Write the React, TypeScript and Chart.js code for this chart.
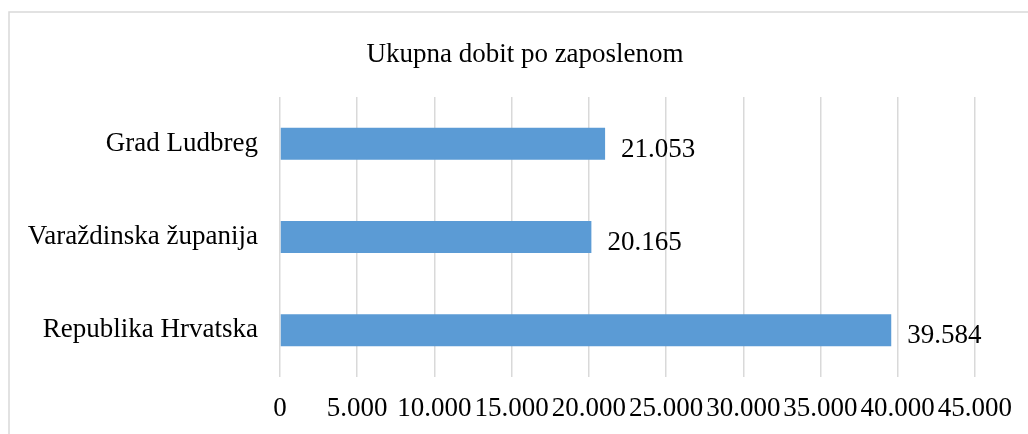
import React, { useEffect, useRef } from "react";
import { Chart, registerables } from "chart.js";

Chart.register(...registerables);

const chartTitle = "Ukupna dobit po zaposlenom";
const categories = ["Grad Ludbreg", "Varaždinska županija", "Republika Hrvatska"];
const values = [21053, 20165, 39584];
const axisMin = 0;
const axisMax = 45000;
const axisStep = 5000;

const FONT = "'Liberation Serif', 'Times New Roman', serif";
const FS = 27;

function fmt(v: number): string {
  const s = Math.round(v).toString();
  return s.replace(/\B(?=(\d{3})+(?!\d))/g, ".");
}

const decorPlugin = {
  id: "decor",
  beforeDraw(chart: any) {
    const ctx = chart.ctx;
    ctx.save();
    ctx.strokeStyle = "#d9d9d9";
    ctx.lineWidth = 1.5;
    ctx.strokeRect(9, 12, 1040, 450);
    ctx.fillStyle = "#000";
    ctx.font = `${FS}px ${FONT}`;
    ctx.textAlign = "center";
    ctx.textBaseline = "alphabetic";
    ctx.fillText(chartTitle, 525, 62);
    ctx.restore();
  },
  afterDatasetsDraw(chart: any) {
    const ctx = chart.ctx;
    const meta = chart.getDatasetMeta(0);
    const data = chart.data.datasets[0].data as number[];
    ctx.save();
    ctx.fillStyle = "#000";
    ctx.font = `${FS}px ${FONT}`;
    ctx.textAlign = "left";
    ctx.textBaseline = "alphabetic";
    meta.data.forEach((el: any, i: number) => {
      ctx.fillText(fmt(data[i]), el.x + 16, el.y + 13);
    });
    ctx.restore();
  },
};

export default function App() {
  const ref = useRef<HTMLCanvasElement>(null);
  useEffect(() => {
    if (!ref.current) return;
    const chart = new Chart(ref.current, {
      type: "bar",
      data: {
        labels: categories,
        datasets: [
          {
            data: values,
            backgroundColor: "#5b9bd5",
            borderWidth: 0,
            barPercentage: 0.343,
            categoryPercentage: 1,
          },
        ],
      },
      options: {
        indexAxis: "y",
        animation: false,
        responsive: false,
        layout: { padding: { top: 97, right: 53, bottom: 0, left: 0 } },
        plugins: {
          legend: { display: false },
          title: { display: false },
          tooltip: { enabled: false },
        },
        scales: {
          x: {
            type: "linear",
            min: axisMin,
            max: axisMax,
            grid: { color: "#d9d9d9", lineWidth: 1.5, drawTicks: false },
            border: { display: false },
            ticks: {
              stepSize: axisStep,
              autoSkip: false,
              maxRotation: 0,
              minRotation: 0,
              padding: 16,
              color: "#000",
              font: { family: FONT, size: FS },
              callback: (v: any) => fmt(Number(v)),
            },
            afterFit: (scale: any) => {
              scale.height = 57;
            },
          },
          y: {
            grid: { display: false, drawTicks: false },
            border: { display: false },
            ticks: {
              padding: 22,
              color: "#000",
              font: { family: FONT, size: FS },
            },
            afterFit: (scale: any) => {
              scale.width = 280;
            },
          },
        },
      },
      plugins: [decorPlugin],
    });
    return () => chart.destroy();
  }, []);
  return (
    <div style={{ position: "fixed", left: 0, top: 0, width: 1028, height: 434, background: "#fff" }}>
      <canvas ref={ref} width={1028} height={434} style={{ display: "block" }} />
    </div>
  );
}
